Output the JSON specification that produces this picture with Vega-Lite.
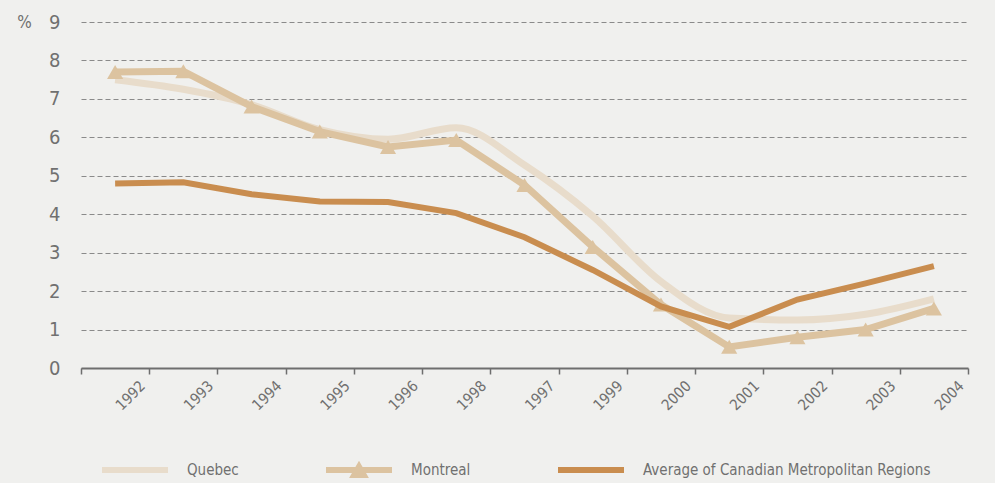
{
  "$schema": "https://vega.github.io/schema/vega-lite/v6.json",
  "width": 907,
  "height": 346,
  "autosize": "none",
  "padding": {"left": 81, "top": 22, "right": 7, "bottom": 115},
  "background": "#f0f0ee",
  "config": {
    "view": {"stroke": null},
    "font": "DejaVu Sans Condensed, Liberation Sans Narrow, sans-serif"
  },
  "data": {
    "values": [
      {"year": "1992", "series": "Quebec", "value": 7.5},
      {"year": "1993", "series": "Quebec", "value": 7.25},
      {"year": "1994", "series": "Quebec", "value": 6.85},
      {"year": "1995", "series": "Quebec", "value": 6.2},
      {"year": "1996", "series": "Quebec", "value": 5.95},
      {"year": "1998", "series": "Quebec", "value": 6.25},
      {"year": "1997", "series": "Quebec", "value": 5.28},
      {"year": "1999", "series": "Quebec", "value": 3.95},
      {"year": "2000", "series": "Quebec", "value": 2.25},
      {"year": "2001", "series": "Quebec", "value": 1.3},
      {"year": "2002", "series": "Quebec", "value": 1.25},
      {"year": "2003", "series": "Quebec", "value": 1.4},
      {"year": "2004", "series": "Quebec", "value": 1.8},
      {"year": "1992", "series": "Montreal", "value": 7.7},
      {"year": "1993", "series": "Montreal", "value": 7.72},
      {"year": "1994", "series": "Montreal", "value": 6.8},
      {"year": "1995", "series": "Montreal", "value": 6.15},
      {"year": "1996", "series": "Montreal", "value": 5.75},
      {"year": "1998", "series": "Montreal", "value": 5.93},
      {"year": "1997", "series": "Montreal", "value": 4.76},
      {"year": "1999", "series": "Montreal", "value": 3.15},
      {"year": "2000", "series": "Montreal", "value": 1.65},
      {"year": "2001", "series": "Montreal", "value": 0.55},
      {"year": "2002", "series": "Montreal", "value": 0.8},
      {"year": "2003", "series": "Montreal", "value": 1.0},
      {"year": "2004", "series": "Montreal", "value": 1.55},
      {"year": "1992", "series": "Average of Canadian Metropolitan Regions", "value": 4.8},
      {"year": "1993", "series": "Average of Canadian Metropolitan Regions", "value": 4.83},
      {"year": "1994", "series": "Average of Canadian Metropolitan Regions", "value": 4.52},
      {"year": "1995", "series": "Average of Canadian Metropolitan Regions", "value": 4.33},
      {"year": "1996", "series": "Average of Canadian Metropolitan Regions", "value": 4.32},
      {"year": "1998", "series": "Average of Canadian Metropolitan Regions", "value": 4.03},
      {"year": "1997", "series": "Average of Canadian Metropolitan Regions", "value": 3.4},
      {"year": "1999", "series": "Average of Canadian Metropolitan Regions", "value": 2.55},
      {"year": "2000", "series": "Average of Canadian Metropolitan Regions", "value": 1.6},
      {"year": "2001", "series": "Average of Canadian Metropolitan Regions", "value": 1.07},
      {"year": "2002", "series": "Average of Canadian Metropolitan Regions", "value": 1.78},
      {"year": "2003", "series": "Average of Canadian Metropolitan Regions", "value": 2.2},
      {"year": "2004", "series": "Average of Canadian Metropolitan Regions", "value": 2.65}
    ]
  },
  "encoding": {
    "x": {
      "field": "year",
      "type": "nominal",
      "bandPosition": 0.5,
      "sort": ["1992","1993","1994","1995","1996","1998","1997","1999","2000","2001","2002","2003","2004"],
      "scale": {"type": "band", "paddingInner": 0, "paddingOuter": 0, "range": [0, 887]},
      "axis": {
        "title": null,
        "grid": false,
        "tickBand": "extent",
        "domainColor": "#6e6e6e",
        "domainWidth": 2,
        "tickColor": "#6e6e6e",
        "tickWidth": 1.5,
        "tickSize": 6,
        "labelAngle": -45,
        "labelAlign": "right",
        "labelBaseline": "middle",
        "labelOffset": 27,
        "labelPadding": 9,
        "labelFontSize": 15,
        "labelColor": "#707070"
      }
    },
    "y": {
      "field": "value",
      "type": "quantitative",
      "scale": {"domain": [0, 9], "nice": false, "zero": true},
      "axis": {
        "values": [0,1,2,3,4,5,6,7,8,9],
        "title": "%",
        "titleAngle": 0,
        "titleX": -57,
        "titleY": 0,
        "titleAlign": "center",
        "titleBaseline": "middle",
        "titleFontSize": 17,
        "titleFontWeight": "normal",
        "titleColor": "#707070",
        "domain": false,
        "ticks": false,
        "labelPadding": 21,
        "labelFontSize": 20,
        "labelColor": "#707070",
        "gridDash": [5, 3],
        "gridColor": "#8a8a8a",
        "gridWidth": 1
      }
    },
    "color": {
      "field": "series",
      "type": "nominal",
      "scale": {
        "domain": ["Quebec", "Montreal", "Average of Canadian Metropolitan Regions"],
        "range": ["#e8dccb", "#dcc3a0", "#c98d4f"]
      },
      "legend": {
        "title": null,
        "orient": "none",
        "direction": "horizontal",
        "legendX": 21,
        "legendY": 415,
        "padding": 0,
        "symbolSize": 4356,
        "columnPadding": 87,
        "labelOffset": 19,
        "labelFontSize": 15,
        "labelColor": "#707070",
        "labelLimit": 500,
        "encode": {
          "symbols": {
            "update": {
              "shape": {"signal": "datum.value === 'Montreal' ? 'M-1,-0.09H1V0.09H-1Z M0,-0.28L0.3,0.24H-0.3Z' : 'M-1,-0.09H1V0.09H-1Z'"},
              "fill": {"signal": "scale('color', datum.value)"},
              "fillOpacity": {"value": 1},
              "strokeWidth": {"value": 0}
            }
          }
        }
      }
    }
  },
  "layer": [
    {
      "transform": [{"filter": "datum.series === 'Quebec'"}],
      "mark": {"type": "line", "strokeWidth": 7, "interpolate": "monotone"}
    },
    {
      "transform": [{"filter": "datum.series === 'Montreal'"}],
      "mark": {"type": "line", "strokeWidth": 7}
    },
    {
      "transform": [{"filter": "datum.series === 'Montreal'"}],
      "mark": {"type": "point", "shape": "triangle-up", "filled": true, "size": 260, "opacity": 1}
    },
    {
      "transform": [{"filter": "datum.series === 'Average of Canadian Metropolitan Regions'"}],
      "mark": {"type": "line", "strokeWidth": 6}
    }
  ]
}
